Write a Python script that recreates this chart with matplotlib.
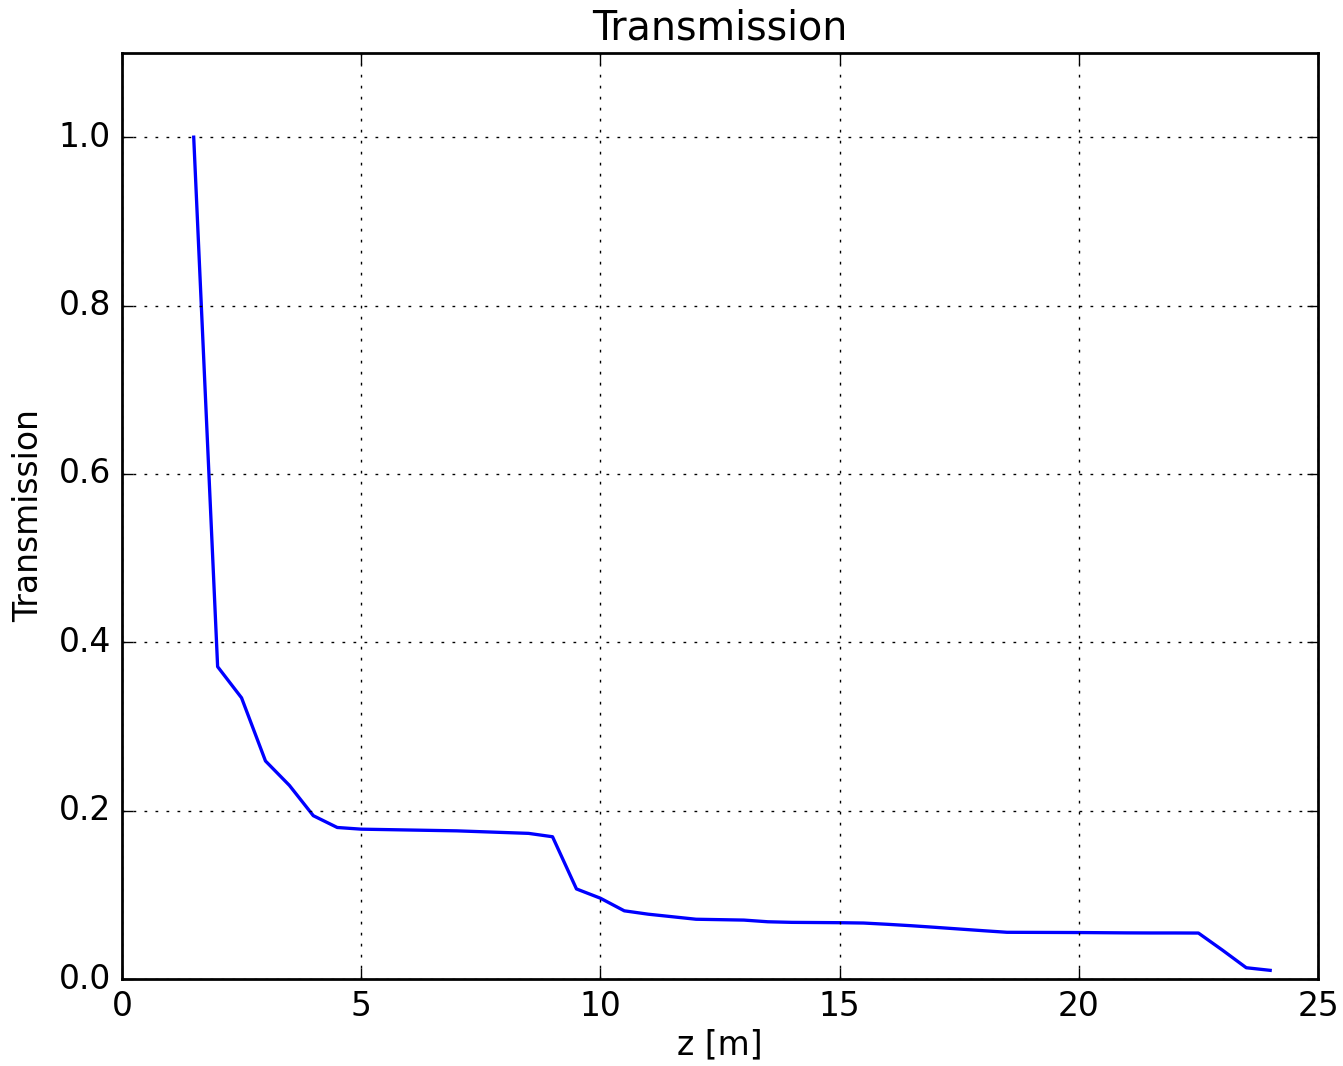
import matplotlib
matplotlib.use('Agg')
import matplotlib.pyplot as plt
import numpy as np

z = np.arange(1.5, 24.01, 0.5)
transmission = [1.0, 0.371, 0.334, 0.259, 0.230, 0.194, 0.180, 0.178,
                0.1775, 0.177, 0.1765, 0.176, 0.175, 0.174, 0.173, 0.169,
                0.107, 0.096, 0.081, 0.077, 0.074, 0.071, 0.0705, 0.070,
                0.068, 0.0673, 0.0671, 0.0669, 0.0665, 0.065, 0.0633, 0.0614,
                0.0594, 0.0574, 0.0555, 0.0554, 0.0553, 0.0552, 0.0550, 0.0548,
                0.0547, 0.0547, 0.0546, 0.0344, 0.0134, 0.0103]

x_ticks = [0, 5, 10, 15, 20, 25]
y_ticks = [0.0, 0.2, 0.4, 0.6, 0.8, 1.0]

plt.style.use('classic')
plt.rcParams['font.family'] = ['DejaVu Sans']

dpi = 198
fig = plt.figure(figsize=(1343 / dpi, 1066 / dpi), dpi=dpi)
ax = fig.add_axes([0.0908, 0.0816, 0.8906, 0.8687])
ax.plot(z, transmission, color='b', linewidth=1.2)

ax.set_xlim(0, 25)
ax.set_ylim(0, 1.1)
ax.set_xticks(x_ticks)
ax.set_yticks(y_ticks)
ax.set_xlabel('z [m]', labelpad=2)
ax.set_ylabel('Transmission')
ax.set_title('Transmission')
ax.grid(True)

fig.savefig('out.png', dpi=dpi, facecolor='white')
